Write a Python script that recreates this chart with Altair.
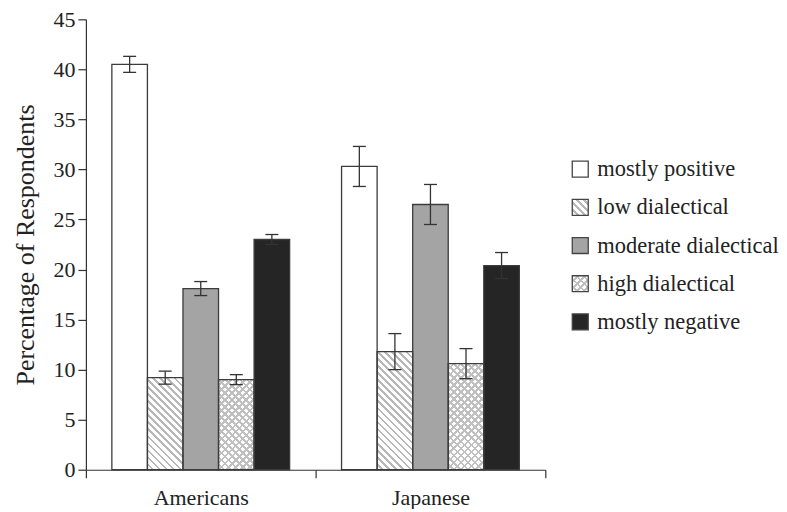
import altair as alt

# ---- data ----
groups = ["Americans", "Japanese"]
categories = ["mostly positive", "low dialectical", "moderate dialectical",
              "high dialectical", "mostly negative"]
americans = [40.5, 9.2, 18.1, 9.0, 23.0]
americans_err = [0.8, 0.65, 0.7, 0.5, 0.5]
japanese = [30.3, 11.8, 26.5, 10.6, 20.4]
japanese_err = [2.0, 1.8, 2.0, 1.5, 1.3]
y_ticks = [0, 5, 10, 15, 20, 25, 30, 35, 40, 45]

# ---- layout / style ----
PLOT_W, PLOT_H = 460, 451
Y_MAX = 45
OUTER_PAD = 0.73
BAR_W = PLOT_W / len(groups) / (len(categories) + 2 * OUTER_PAD)
FONT = "Liberation Serif"
INK = "#333333"
HATCH = "#b8b8b8"
CLEAR = "rgba(255,255,255,0)"


def stripes(w, h, direction, line_color, gap_color, period=5.0, line=1.9):
    """Linear gradient imitating 45-degree hatching on a w x h box."""
    c = (w + h) / (w * w + h * h)
    if direction == "back":   # lines like "\"
        x1, y1, x2, y2 = 0, 1, c * w, 1 - c * h
    else:                     # lines like "/"
        x1, y1, x2, y2 = 0, 0, c * w, c * h
    extent = (w + h) / 2 ** 0.5
    stops = []
    pos = 0.0
    while pos < extent - 1e-6:
        a = pos / extent
        b = min(pos + (period - line), extent) / extent
        e = min(pos + period, extent) / extent
        stops += [{"offset": a, "color": gap_color},
                  {"offset": b, "color": gap_color},
                  {"offset": b, "color": line_color},
                  {"offset": e, "color": line_color}]
        pos += period
    return {"gradient": "linear", "x1": x1, "y1": y1, "x2": x2, "y2": y2,
            "stops": stops}


def fills(cat, w, h):
    if cat == "mostly positive":
        return "white", CLEAR
    if cat == "low dialectical":
        return stripes(w, h, "back", HATCH, "white"), CLEAR
    if cat == "moderate dialectical":
        return "#a4a4a4", CLEAR
    if cat == "high dialectical":
        return (stripes(w, h, "back", "#c0c0c0", "white"),
                stripes(w, h, "fwd", "#c0c0c0", CLEAR))
    return "#252525", CLEAR


records = []
for g, vals, errs in [(groups[0], americans, americans_err),
                      (groups[1], japanese, japanese_err)]:
    for cat, v, e in zip(categories, vals, errs):
        f, o = fills(cat, BAR_W, v * PLOT_H / Y_MAX)
        records.append({"group": g, "category": cat, "value": v,
                        "lo": v - e, "hi": v + e, "fill": f, "overlay": o})

base = alt.Chart(alt.Data(values=records)).encode(
    x=alt.X("group:N", sort=groups,
            scale=alt.Scale(paddingInner=0, paddingOuter=0),
            axis=alt.Axis(title=None, labelAngle=0, tickBand="extent",
                          tickSize=8, labelPadding=10)),
    xOffset=alt.XOffset("category:N", sort=categories,
                        scale=alt.Scale(paddingInner=0, paddingOuter=OUTER_PAD)),
)

yenc = alt.Y("value:Q", scale=alt.Scale(domain=[0, Y_MAX], nice=False),
             axis=alt.Axis(values=y_ticks, title="Percentage of Respondents",
                           tickSize=8, labelPadding=3, titlePadding=14,
                           titleFontSize=26, grid=False))

bars = base.mark_bar(strokeWidth=0).encode(
    y=yenc, fill=alt.Fill("fill:N", scale=None))
overlay = base.transform_filter(alt.datum.category == "high dialectical").mark_bar(
    strokeWidth=0).encode(y="value:Q", fill=alt.Fill("overlay:N", scale=None))
outline = base.mark_bar(fillOpacity=0, stroke="#3c3c3c", strokeWidth=1.3).encode(
    y="value:Q")
err = base.mark_rule(color=INK, strokeWidth=1.3).encode(y="lo:Q", y2="hi:Q")
cap_lo = base.mark_tick(color=INK, thickness=1.3, size=13, opacity=1).encode(y="lo:Q")
cap_hi = base.mark_tick(color=INK, thickness=1.3, size=13, opacity=1).encode(y="hi:Q")

main = alt.layer(bars, overlay, outline, err, cap_lo, cap_hi).properties(
    width=PLOT_W, height=PLOT_H)

# ---- legend drawn as its own small view ----
SQ = 16
leg_records = []
for cat in categories:
    f, o = fills(cat, SQ, SQ)
    leg_records.append({"category": cat, "fill": f, "overlay": o})

leg = alt.Chart(alt.Data(values=leg_records)).encode(
    y=alt.Y("category:N", sort=categories,
            scale=alt.Scale(type="point", range=[150, 303], padding=0),
            axis=None))
sq = leg.mark_square(size=SQ * SQ, strokeWidth=0, opacity=1).encode(
    x=alt.value(24), fill=alt.Fill("fill:N", scale=None))
sq_over = leg.transform_filter(alt.datum.category == "high dialectical").mark_square(
    size=SQ * SQ, strokeWidth=0, opacity=1).encode(
    x=alt.value(24), fill=alt.Fill("overlay:N", scale=None))
sq_line = leg.mark_square(size=SQ * SQ, fillOpacity=0, stroke="#444444",
                          strokeWidth=1.3, opacity=1).encode(x=alt.value(24))
txt = leg.mark_text(align="left", baseline="middle", font=FONT, fontSize=22.5,
                    color="#222222").encode(x=alt.value(41), text="category:N")
legend = alt.layer(sq, sq_over, sq_line, txt).properties(width=180, height=PLOT_H)

chart = alt.hconcat(main, legend, spacing=10).properties(
    background="white",
    padding={"left": 5, "top": 0, "right": 0, "bottom": 0}
).configure_view(
    stroke=None
).configure_axis(
    domainColor=INK, tickColor=INK, domainWidth=1.2, tickWidth=1.2,
    labelFont=FONT, labelFontSize=22, labelColor="#222222",
    titleFont=FONT, titleFontSize=26, titleFontWeight="normal",
    titleColor="#222222"
)

chart.save("out.html", embed_options={"renderer": "svg", "actions": False})
